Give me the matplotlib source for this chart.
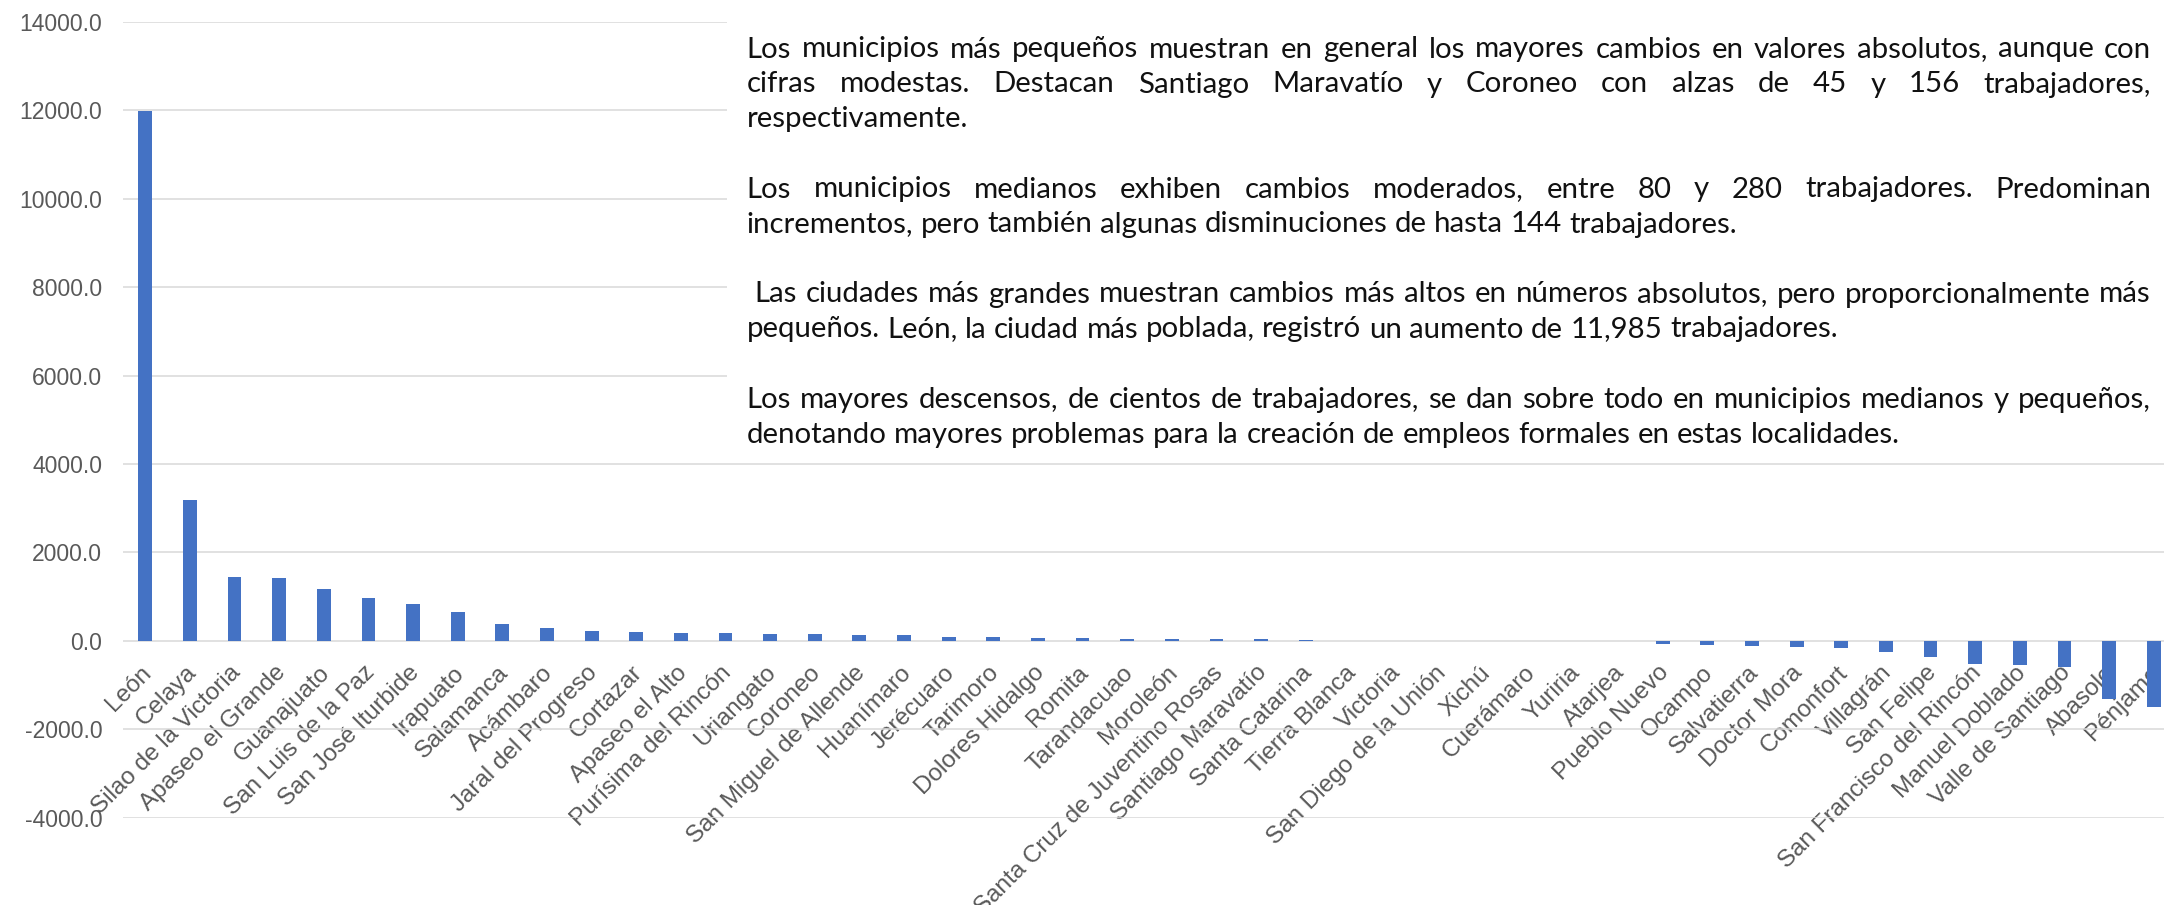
import matplotlib
matplotlib.use("Agg")
import matplotlib.pyplot as plt
from matplotlib.patches import Rectangle
from matplotlib.transforms import ScaledTranslation
from matplotlib.ticker import FormatStrFormatter

# ---------------- data ----------------
municipios = [
    "León", "Celaya", "Silao de la Victoria", "Apaseo el Grande", "Guanajuato",
    "San Luis de la Paz", "San José Iturbide", "Irapuato", "Salamanca", "Acámbaro",
    "Jaral del Progreso", "Cortazar", "Apaseo el Alto", "Purísima del Rincón", "Uriangato",
    "Coroneo", "San Miguel de Allende", "Huanímaro", "Jerécuaro", "Tarimoro",
    "Dolores Hidalgo", "Romita", "Tarandacuao", "Moroleón", "Santa Cruz de Juventino Rosas",
    "Santiago Maravatío", "Santa Catarina", "Tierra Blanca", "Victoria", "San Diego de la Unión",
    "Xichú", "Cuerámaro", "Yuriria", "Atarjea", "Pueblo Nuevo",
    "Ocampo", "Salvatierra", "Doctor Mora", "Comonfort", "Villagrán",
    "San Felipe", "San Francisco del Rincón", "Manuel Doblado", "Valle de Santiago", "Abasolo",
    "Pénjamo",
]
cambio = [
    11985, 3180, 1436, 1427, 1171,
    960, 838, 650, 378, 281,
    220, 190, 181, 170, 165,
    156, 136, 122, 80, 78,
    76, 62, 52, 50, 48,
    45, 25, 8, 3, 1,
    0, -2, -10, -12, -65,
    -97, -110, -144, -150, -250,
    -354, -528, -543, -589, -1305,
    -1495,
]
y_ticks = [-4000, -2000, 0, 2000, 4000, 6000, 8000, 10000, 12000, 14000]

parrafos = [
    ["Los municipios más pequeños muestran en general los mayores cambios en valores absolutos, aunque con",
     "cifras modestas. Destacan Santiago Maravatío y Coroneo con alzas de 45 y 156 trabajadores,",
     "respectivamente."],
    ["Los municipios medianos exhiben cambios moderados, entre 80 y 280 trabajadores. Predominan",
     "incrementos, pero también algunas disminuciones de hasta 144 trabajadores."],
    [" Las ciudades más grandes muestran cambios más altos en números absolutos, pero proporcionalmente más",
     "pequeños. León, la ciudad más poblada, registró un aumento de 11,985 trabajadores."],
    ["Los mayores descensos, de cientos de trabajadores, se dan sobre todo en municipios medianos y pequeños,",
     "denotando mayores problemas para la creación de empleos formales en estas localidades."],
]

# ---------------- figure ----------------
W, H = 2164, 905
DPI = 100
fig = plt.figure(figsize=(W / DPI, H / DPI), dpi=DPI)
fig.patch.set_facecolor("white")

ax_left, ax_right = 123, 2176
ax_top, ax_bottom = 22, 817.7
ax = fig.add_axes([ax_left / W, 1 - ax_bottom / H, (ax_right - ax_left) / W, (ax_bottom - ax_top) / H])

x = list(range(len(municipios)))
ax.bar(x, cambio, width=0.31, color="#4472C4", zorder=3)
ax.set_xlim(-0.5, len(municipios) - 0.5)
ax.set_ylim(-4000, 14000)
ax.set_yticks(y_ticks)
ax.yaxis.set_major_formatter(FormatStrFormatter("%.1f"))
ax.grid(axis="y", color="#D9D9D9", linewidth=1.1, zorder=0)
ax.set_axisbelow(True)
ax.spines["bottom"].set_position(("data", 0))
for s in ax.spines.values():
    s.set_visible(False)

ax.tick_params(axis="y", length=0, pad=15, labelcolor="#595959")
ax.tick_params(axis="x", length=0, pad=15, labelcolor="#595959")
for lbl in ax.get_yticklabels():
    lbl.set_fontfamily("Liberation Sans")
    lbl.set_fontsize(16.5)
ax.set_xticks(x)
ax.set_xticklabels(municipios, rotation=45, ha="right", va="top",
                   rotation_mode="anchor", fontfamily="Liberation Sans",
                   fontsize=17.5)
offset = ScaledTranslation(-5 / DPI, 0, fig.dpi_scale_trans)
for lbl in ax.get_xticklabels():
    lbl.set_transform(lbl.get_transform() + offset)

# ---------------- text box ----------------
box_left, box_bottom = 727, 458
fig.patches.append(Rectangle((box_left / W, 1 - box_bottom / H), 1, box_bottom / H,
                             transform=fig.transFigure, facecolor="white",
                             edgecolor="none", zorder=2))

renderer = fig.canvas.get_renderer()
txt_left, txt_right = 746.7, 2151
fs = 21.2
line_h = 35.0
first_baseline = 57.5
txt_kw = dict(family="Lato", fontsize=fs, color="#111111", va="baseline", ha="left", zorder=4)


def word_width(w):
    t = fig.text(0, 0, w, **txt_kw)
    wd = t.get_window_extent(renderer).width
    t.remove()
    return wd


space_w = word_width("a a") - word_width("aa")
y = first_baseline
for par in parrafos:
    for i, line in enumerate(par):
        lead = len(line) - len(line.lstrip(" "))
        words = line.strip().split(" ")
        widths = [word_width(w) for w in words]
        start = txt_left + lead * space_w
        last = (i == len(par) - 1)
        if last or len(words) == 1:
            gap = space_w
        else:
            gap = (txt_right - start - sum(widths)) / (len(words) - 1)
        cx = start
        for w, wd in zip(words, widths):
            fig.text(cx / W, 1 - y / H, w, **txt_kw)
            cx += wd + gap
        y += line_h
    y += line_h

fig.savefig("out.png", dpi=DPI, facecolor="white")
